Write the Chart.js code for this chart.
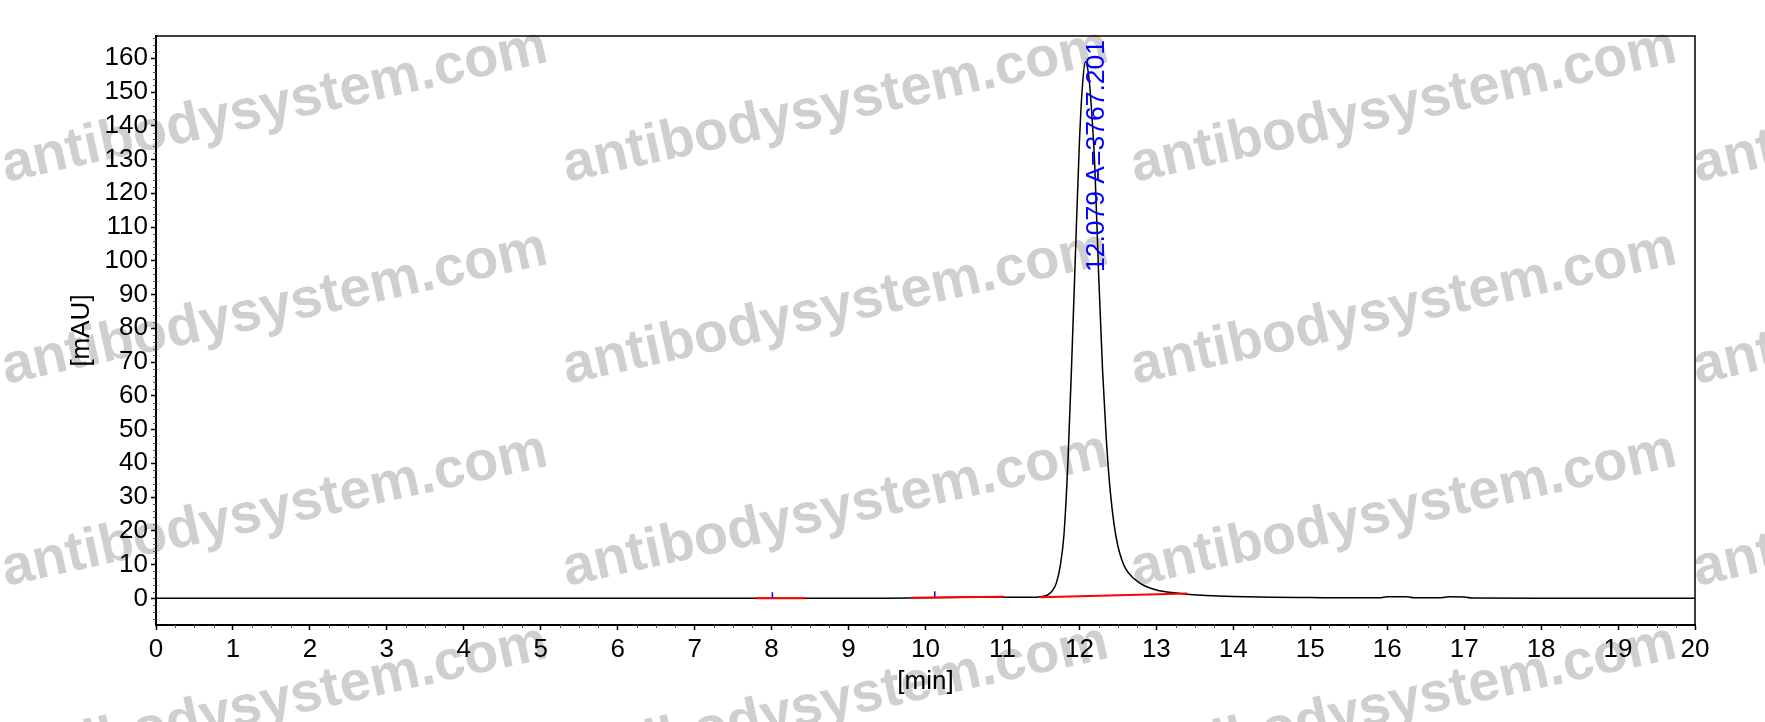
<!DOCTYPE html>
<html><head><meta charset="utf-8">
<script src="https://cdn.jsdelivr.net/npm/chart.js@4.4.1/dist/chart.umd.min.js"></script>
<style>html,body{margin:0;padding:0;background:#fff;}canvas{display:block;}</style>
</head><body>
<canvas id="c" width="1765" height="722"></canvas>
<script>
// ---- data ----
const traceTime = [0, 2, 4, 6, 7.5, 8.0, 8.5, 9.5, 10.0, 10.5, 11.0, 11.3, 11.45, 11.5, 11.55, 11.6, 11.65, 11.7, 11.75, 11.8, 11.85, 11.9, 11.95, 12.0, 12.04, 12.079, 12.12, 12.16, 12.2, 12.25, 12.3, 12.35, 12.4, 12.45, 12.5, 12.55, 12.6, 12.7, 12.8, 12.9, 13.0, 13.2, 13.4, 13.6, 13.8, 14.0, 14.5, 15.0, 15.5, 15.9, 16.0, 16.25, 16.35, 16.7, 16.8, 17.0, 17.1, 18, 20];
const traceMAU  = [0, 0, 0, 0, 0, 0.05, 0, 0.05, 0.2, 0.3, 0.35, 0.3, 0.35, 0.5, 0.7, 1.2, 2.3, 4.5, 9.5, 19, 40, 70, 103, 135, 152, 159, 155, 144, 128, 96, 68, 47, 32, 22, 15.5, 11.5, 8.8, 6, 4.3, 3.2, 2.5, 1.7, 1.2, 0.9, 0.7, 0.55, 0.35, 0.25, 0.15, 0.15, 0.5, 0.5, 0.2, 0.2, 0.45, 0.4, 0.1, 0.05, 0];
const baselineTime = [7.79, 8.44, 8.44, 9.81, 11.02, 11.02, 11.49, 13.4];
const baselineMAU  = [0.05, 0.05, null, 0.15, 0.45, null, 0.3, 1.4];
const markerTime = [8.01, 8.01, 8.01, 10.12, 10.12];
const markerMAU  = [0, 1.8, null, 0.3, 2.1];
const peakLabel = '12.079 A=3767.201';
const peakTime = 12.079;
const xTickValues = [0,1,2,3,4,5,6,7,8,9,10,11,12,13,14,15,16,17,18,19,20];
const yTickValues = [0,10,20,30,40,50,60,70,80,90,100,110,120,130,140,150,160];
const xRange = [0, 20];
const yRange = [-7.9, 166.6];
const xTitle = '[min]';
const yTitle = '[mAU]';
const watermarkText = 'antibodysystem.com';

const toXY = (xs, ys) => xs.map((x, i) => ({x: x, y: ys[i]}));
const FONT = 'Liberation Sans, Arial, sans-serif';

const extras = {
  id: 'extras',
  beforeDraw(chart) {
    const ctx = chart.ctx;
    ctx.save();
    ctx.fillStyle = '#fff';
    ctx.fillRect(0, 0, chart.width, chart.height);
    ctx.fillStyle = '#cfcfcf';
    ctx.font = 'bold 56px ' + FONT;
    ctx.textBaseline = 'alphabetic';
    const cols = [6, 567, 1135, 1697];
    const rows = [182, 384, 586, 778];
    rows.forEach(ry => cols.forEach(cx => {
      ctx.save();
      ctx.translate(cx, ry);
      ctx.rotate(-12.5 * Math.PI / 180);
      ctx.fillText(watermarkText, 0, 0);
      ctx.restore();
    }));
    ctx.restore();
  },
  afterDatasetsDraw(chart) {
    const ctx = chart.ctx, xs = chart.scales.x, a = chart.chartArea;
    const px = xs.getPixelForValue(peakTime);
    ctx.save();
    ctx.translate(px + 19, a.top + 4);
    ctx.rotate(-Math.PI / 2);
    ctx.font = '26.5px ' + FONT;
    ctx.fillStyle = '#0000ff';
    ctx.textAlign = 'right';
    ctx.textBaseline = 'alphabetic';
    ctx.fillText(peakLabel, 0, 0);
    ctx.restore();
  },
  afterDraw(chart) {
    const ctx = chart.ctx, a = chart.chartArea, xs = chart.scales.x, ys = chart.scales.y;
    ctx.save();
    ctx.strokeStyle = '#000';
    ctx.lineWidth = 1.5;
    ctx.beginPath();
    ctx.moveTo(a.left, a.top); ctx.lineTo(a.right, a.top); ctx.lineTo(a.right, a.bottom);
    ctx.stroke();
    ctx.strokeStyle = '#555';
    ctx.lineWidth = 1;
    ctx.beginPath();
    for (let v = -6; v <= yRange[1]; v += 2) {
      if (v % 10 === 0) continue;
      const y = Math.round(ys.getPixelForValue(v)) + 0.5;
      ctx.moveTo(a.left - 3, y); ctx.lineTo(a.left, y);
    }
    for (let v = 0.25; v < xRange[1]; v += 0.25) {
      if (Math.abs(v - Math.round(v)) < 1e-6) continue;
      const x = Math.round(xs.getPixelForValue(v)) + 0.5;
      ctx.moveTo(x, a.bottom); ctx.lineTo(x, a.bottom + 3);
    }
    ctx.stroke();
    ctx.restore();
  }
};

new Chart(document.getElementById('c'), {
  type: 'line',
  data: {
    datasets: [
      { label: 'events', data: toXY(markerTime, markerMAU), borderColor: '#0000ff', borderWidth: 1.5, pointRadius: 0, spanGaps: false, tension: 0 },
      { label: 'baseline', data: toXY(baselineTime, baselineMAU), borderColor: '#ff0000', borderWidth: 2, pointRadius: 0, spanGaps: false, tension: 0 },
      { label: 'signal', data: toXY(traceTime, traceMAU), borderColor: '#000', borderWidth: 1.5, pointRadius: 0, cubicInterpolationMode: 'monotone' }
    ]
  },
  options: {
    responsive: false,
    animation: false,
    devicePixelRatio: 1,
    layout: { padding: { left: 0, right: 70, top: 36, bottom: 0 } },
    plugins: { legend: { display: false }, tooltip: { enabled: false } },
    scales: {
      x: {
        type: 'linear', min: xRange[0], max: xRange[1],
        afterBuildTicks: s => { s.ticks = xTickValues.map(v => ({value: v})); },
        afterFit: s => { s.height = 97; },
        grid: { drawOnChartArea: false, drawTicks: true, tickLength: 5, tickColor: '#000', tickWidth: 1.5 },
        border: { display: true, color: '#000', width: 2 },
        ticks: { color: '#000', font: { family: FONT, size: 26 }, padding: 4, maxRotation: 0, autoSkip: false },
        title: { display: true, text: xTitle, color: '#000', font: { family: FONT, size: 26 }, padding: { top: 0, bottom: 25 } }
      },
      y: {
        type: 'linear', min: yRange[0], max: yRange[1],
        afterBuildTicks: s => { s.ticks = yTickValues.map(v => ({value: v})); },
        afterFit: s => { s.width = 156; },
        grid: { drawOnChartArea: false, drawTicks: true, tickLength: 5, tickColor: '#000', tickWidth: 1.5 },
        border: { display: true, color: '#000', width: 2 },
        ticks: { color: '#000', font: { family: FONT, size: 26 }, padding: 3, autoSkip: false },
        title: { display: true, text: yTitle, color: '#000', font: { family: FONT, size: 26 }, padding: { top: 66, bottom: 0 } }
      }
    }
  },
  plugins: [extras]
});
</script>
</body></html>
